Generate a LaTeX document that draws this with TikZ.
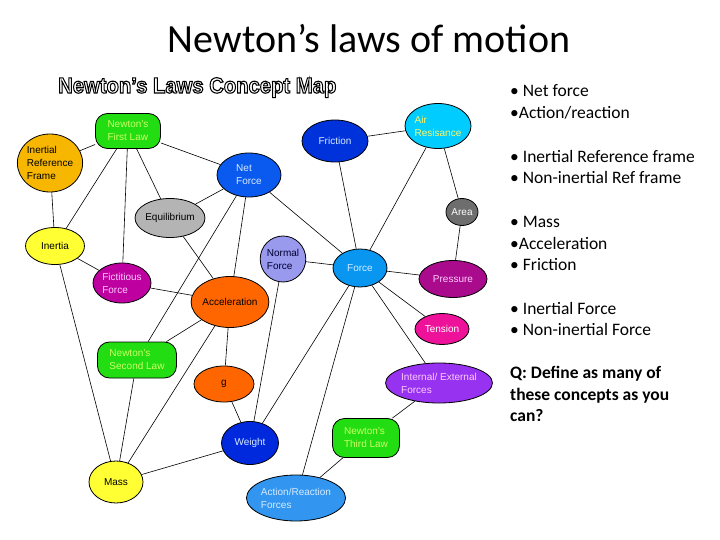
\documentclass[tikz,border=0pt]{standalone}
\usepackage{fontspec}
\setmainfont{Liberation Sans}
\newfontfamily\calibri{Carlito}
\usetikzlibrary{shapes.geometric}
\definecolor{cGreen}{RGB}{34,221,17}
\definecolor{cLawTxt}{RGB}{204,255,102}
\definecolor{cIRF}{RGB}{247,183,0}
\definecolor{cNet}{RGB}{10,90,240}
\definecolor{cFric}{RGB}{0,50,220}
\definecolor{cAir}{RGB}{0,204,255}
\definecolor{cArea}{RGB}{110,110,110}
\definecolor{cEqu}{RGB}{180,180,180}
\definecolor{cYel}{RGB}{255,255,51}
\definecolor{cNorm}{RGB}{153,153,238}
\definecolor{cForce}{RGB}{8,150,240}
\definecolor{cPress}{RGB}{170,10,140}
\definecolor{cFict}{RGB}{190,0,160}
\definecolor{cOrange}{RGB}{255,102,0}
\definecolor{cTens}{RGB}{238,17,153}
\definecolor{cIntExt}{RGB}{150,50,240}
\definecolor{cWeight}{RGB}{0,40,220}
\definecolor{cAR}{RGB}{50,150,240}
\definecolor{cLightTxt}{RGB}{215,235,255}
\definecolor{cPinkTxt}{RGB}{255,204,255}
\newcommand{\outlinedtext}[1]{\textcolor{white}{\special{pdf:literal direct 0 G 1.1 w 2 Tr}#1\special{pdf:literal direct 0 Tr}}}
\begin{document}
\begin{tikzpicture}[x=1pt,y=-1pt,
  concept/.style={ellipse, draw=black, line width=0.8pt, inner sep=0pt,
    font=\fontsize{10}{13}\selectfont, align=left},
  lawbox/.style={rectangle, rounded corners=12pt, draw=black, line width=0.8pt,
    inner sep=0pt, fill=cGreen, text=cLawTxt,
    font=\fontsize{10}{13}\selectfont, align=left},
  link/.style={draw=black, line width=0.6pt},
  sidetxt/.style={anchor=base west, inner sep=0pt, font=\calibri\fontsize{17.5}{21}\selectfont},
  sidebold/.style={sidetxt, font=\calibri\bfseries\fontsize{17.5}{21}\selectfont}]
\useasboundingbox (0,0) rectangle (720,540);

% titles
\node[anchor=base, inner sep=0pt, font=\calibri\fontsize{40}{48}\selectfont] (title) at (369,53) {Newton’s laws of motion};
\node[anchor=base west, inner sep=0pt, font=\bfseries\fontsize{22}{26}\selectfont] (maptitle) at (58,93)
  {\scalebox{0.92}[1]{\outlinedtext{Newton's Laws Concept Map}}};

% nodes
\node[lawbox, minimum width=65pt, minimum height=35pt] (first) at (128,131) {Newton's\\First Law};
\node[concept, fill=cIRF, minimum width=62pt, minimum height=58pt] (irf) at (50,163) {Inertial\\Reference\\Frame};
\node[concept, fill=cNet, text=cLightTxt, minimum width=64pt, minimum height=44pt] (net) at (249,175) {Net\\Force};
\node[concept, fill=cFric, text=cLightTxt, minimum width=66pt, minimum height=42pt] (fric) at (335,141) {Friction};
\node[concept, fill=cAir, text=yellow!60!white, minimum width=64pt, minimum height=45pt] (air) at (438,126) {Air\\Resisance};
\node[concept, fill=cArea, text=white, minimum width=32pt, minimum height=27pt] (area) at (462,212) {Area};
\node[concept, fill=cEqu, text=black, minimum width=54pt, minimum height=39pt] (equ) at (170,218) {Equilibrium};
\node[concept, fill=cYel, text=black, minimum width=59pt, minimum height=37pt] (inertia) at (55,246) {Inertia};
\node[concept, fill=cNorm, text=black!80!blue, minimum width=45pt, minimum height=46pt] (normal) at (283,259) {Normal\\Force};
\node[concept, fill=cForce, text=cLightTxt, minimum width=54pt, minimum height=38pt] (force) at (360,268) {Force};
\node[concept, fill=cPress, text=cPinkTxt, minimum width=68pt, minimum height=37pt] (press) at (453,279) {Pressure};
\node[concept, fill=cFict, text=cPinkTxt, minimum width=58pt, minimum height=40pt] (fict) at (122,283) {Fictitious\\Force};
\node[concept, fill=cOrange, text=black, minimum width=71pt, minimum height=51pt] (acc) at (230,302) {Acceleration};
\node[concept, fill=cTens, text=white, minimum width=54pt, minimum height=31pt] (tens) at (442,329) {Tension};
\node[lawbox, minimum width=79pt, minimum height=36pt] (second) at (137,360) {Newton's\\Second Law};
\node[concept, fill=cOrange, text=black, minimum width=60pt, minimum height=36pt] (g) at (224,384) {g};
\node[concept, fill=cIntExt, text=cPinkTxt, minimum width=100pt, minimum height=40pt] (intext) at (439,383) {Internal/ External\\Forces};
\node[concept, fill=cWeight, text=cLightTxt, minimum width=57pt, minimum height=43pt] (weight) at (250,443) {Weight};
\node[lawbox, minimum width=67pt, minimum height=39pt] (third) at (366,438) {Newton's\\Third Law};
\node[concept, fill=cYel, text=black, minimum width=54pt, minimum height=42pt] (mass) at (116,482) {Mass};
\node[concept, fill=cAR, text=cLightTxt, minimum width=91pt, minimum height=46pt] (ar) at (296,498) {Action/Reaction\\Forces};

% connectors
\path[link] (first) -- (irf);
\path[link] (first) -- (net);
\path[link] (first) -- (equ);
\path[link] (first) -- (inertia);
\path[link] (first) -- (fict);
\path[link] (irf) -- (inertia);
\path[link] (fric) -- (air);
\path[link] (fric) -- (force);
\path[link] (air) -- (force);
\path[link] (air) -- (area);
\path[link] (area) -- (press);
\path[link] (net) -- (equ);
\path[link] (net) -- (second);
\path[link] (net) -- (acc);
\path[link] (net) -- (force);
\path[link] (equ) -- (acc);
\path[link] (inertia) -- (fict);
\path[link] (inertia) -- (mass);
\path[link] (fict) -- (acc);
\path[link] (normal) -- (force);
\path[link] (normal) -- (weight);
\path[link] (force) -- (weight);
\path[link] (force) -- (ar);
\path[link] (force) -- (press);
\path[link] (force) -- (tens);
\path[link] (force) -- (intext);
\path[link] (acc) -- (second);
\path[link] (acc) -- (g);
\path[link] (acc) -- (mass);
\path[link] (second) -- (mass);
\path[link] (g) -- (weight);
\path[link] (weight) -- (mass);
\path[link] (intext) -- (third);
\path[link] (third) -- (ar);

% side text
\node[sidetxt] (s1) at (510,97) {• Net force};
\node[sidetxt] (s2) at (510,119) {•Action/reaction};
\node[sidetxt] (s3) at (510,163) {• Inertial Reference frame};
\node[sidetxt] (s4) at (510,184) {• Non-inertial Ref frame};
\node[sidetxt] (s5) at (510,227) {• Mass};
\node[sidetxt] (s6) at (510,249) {•Acceleration};
\node[sidetxt] (s7) at (510,270) {• Friction};
\node[sidetxt] (s8) at (510,314) {• Inertial Force};
\node[sidetxt] (s9) at (510,335) {• Non-inertial Force};
\node[sidebold] (q1) at (510,378) {Q: Define as many of};
\node[sidebold] (q2) at (510,400) {these concepts as you};
\node[sidebold] (q3) at (510,421) {can?};
\end{tikzpicture}
\end{document}
